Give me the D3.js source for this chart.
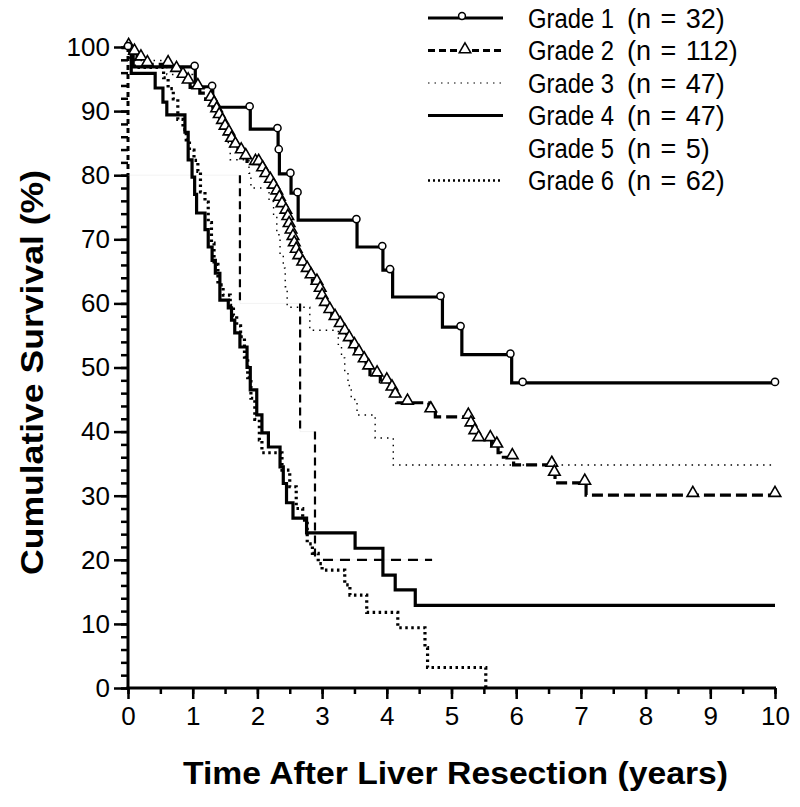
<!DOCTYPE html>
<html>
<head>
<meta charset="utf-8">
<script src="https://cdn.jsdelivr.net/npm/d3@7"></script>
<style>
  html, body { margin: 0; padding: 0; background: #fff; }
  svg { display: block; }
  text { font-family: "Liberation Sans", Arial, sans-serif; fill: #000; }
</style>
</head>
<body>
<svg id="chart" width="800" height="807"></svg>
<script>
// ---------- data ----------
const categories = ["Grade 1", "Grade 2", "Grade 3", "Grade 4", "Grade 5", "Grade 6"];
const sampleSizes = [32, 112, 47, 47, 5, 62];
const xTickValues = [0, 1, 2, 3, 4, 5, 6, 7, 8, 9, 10];
const yTickValues = [0, 10, 20, 30, 40, 50, 60, 70, 80, 90, 100];

// step points: [time (years), survival (%) after the step]
const grade1Steps = [[0,100],[0.08,96.9],[1.04,93.8],[1.31,90.6],[1.89,87.2],[2.32,83.9],[2.34,80.2],[2.52,77.2],[2.63,73.0],[3.54,68.8],[3.94,65.2],[4.09,61.0],[4.86,56.3],[5.16,52.0],[5.93,47.6]];
const grade1End = 10;
const grade1Censor = [0,1.03,1.3,1.88,2.31,2.33,2.51,2.62,3.53,3.93,4.05,4.83,5.14,5.91,6.1,10];

const grade2Steps = [[0,100],[0.03,99.1],[0.14,98.2],[0.22,97.3],[0.7,96.4],[0.8,95.5],[0.91,94.6],[0.96,93.7],[1.11,92.8],[1.2,91.9],[1.31,91.0],[1.34,90.1],[1.38,89.2],[1.42,88.3],[1.48,87.4],[1.53,86.5],[1.58,85.5],[1.62,84.6],[1.7,83.7],[1.78,82.8],[1.84,81.9],[2.04,80.9],[2.1,80.0],[2.15,79.1],[2.23,78.2],[2.27,77.3],[2.32,76.3],[2.36,75.3],[2.4,74.3],[2.46,73.3],[2.48,72.2],[2.5,71.2],[2.53,70.2],[2.56,69.2],[2.58,68.2],[2.62,67.2],[2.66,66.2],[2.72,65.2],[2.8,64.2],[2.85,63.2],[2.95,62.1],[2.98,61.0],[3.02,59.9],[3.08,58.8],[3.15,57.7],[3.25,56.6],[3.3,55.5],[3.38,54.4],[3.45,53.3],[3.52,52.2],[3.6,51.1],[3.68,50.0],[3.74,48.9],[3.9,47.8],[4.05,46.7],[4.1,45.6],[4.15,44.5],[4.65,43.3],[4.75,42.3],[5.28,41.1],[5.33,39.9],[5.4,38.8],[5.62,37.8],[5.72,36.7],[5.76,36.0],[5.96,34.8],[6.58,33.4],[6.6,32.0],[7.08,30.1]];
const grade2End = 10;
const grade2Censor = [0.01,0.1,0.2,0.3,0.62,0.75,0.85,0.93,1.08,1.28,1.33,1.37,1.41,1.46,1.5,1.56,1.6,1.66,1.75,1.82,1.97,2.02,2.08,2.13,2.2,2.25,2.3,2.34,2.38,2.44,2.47,2.49,2.52,2.55,2.57,2.6,2.64,2.7,2.77,2.83,2.92,2.97,3.0,3.05,3.12,3.2,3.28,3.35,3.42,3.5,3.57,3.65,3.72,3.85,4.0,4.08,4.13,4.32,4.68,5.26,5.3,5.36,5.42,5.6,5.7,5.94,6.55,6.59,7.06,8.73,10];

const grade3Steps = [[0,100],[0.1,97.9],[0.6,95.7],[1.0,93.6],[1.3,91.5],[1.4,89.4],[1.5,87.2],[1.55,85.1],[1.58,82.4],[1.87,80.3],[1.9,78.0],[2.18,75.9],[2.25,73.8],[2.3,70.7],[2.35,67.6],[2.4,65.5],[2.43,62.6],[2.46,59.4],[2.81,55.8],[3.25,53.6],[3.3,51.5],[3.35,49.4],[3.4,47.2],[3.45,45.0],[3.54,42.6],[3.82,39.0],[4.1,34.8]];
const grade3End = 10;

const grade4Steps = [[0,100],[0.05,95.9],[0.42,93.6],[0.54,91.4],[0.6,89.4],[0.88,86.7],[0.93,82.4],[0.99,79.7],[1.03,77.0],[1.06,74.1],[1.19,71.5],[1.24,68.8],[1.3,66.7],[1.35,64.7],[1.42,60.5],[1.55,59.3],[1.6,57.4],[1.65,55.4],[1.73,53.2],[1.84,50.0],[1.89,46.5],[1.99,42.6],[2.07,39.8],[2.17,37.6],[2.35,34.5],[2.4,31.9],[2.45,28.9],[2.55,26.5],[2.76,24.2],[3.51,21.8],[3.94,17.6],[4.13,15.3],[4.44,12.9]];
const grade4End = 10;

const grade5Steps = [[0,100],[0.0,80],[1.73,60],[2.66,40],[2.89,20]];
const grade5End = 4.7;

const grade6Steps = [[0,100],[0.03,98.4],[0.1,96.8],[0.55,95.2],[0.62,93.5],[0.7,91.9],[0.77,88.7],[0.85,87.1],[0.9,85.5],[0.95,83.9],[1.02,82.3],[1.08,80.6],[1.12,77.4],[1.19,75.8],[1.24,72.6],[1.29,69.4],[1.33,66.1],[1.39,62.9],[1.47,61.3],[1.58,59.7],[1.63,58.1],[1.68,56.5],[1.74,54.8],[1.8,51.6],[1.85,48.4],[1.9,45.2],[1.96,41.9],[2.03,38.7],[2.07,36.7],[2.38,34.0],[2.5,31.4],[2.6,28.0],[2.7,26.2],[2.77,22.5],[2.85,21.0],[2.94,19.4],[3.0,18.4],[3.35,16.1],[3.43,14.5],[3.69,11.8],[4.17,9.4],[4.59,6.3],[4.63,3.2],[5.53,0]];
const grade6End = 5.53;

// ---------- drawing ----------
const svg = d3.select("#chart");
const x = d3.scaleLinear().domain([0, 10]).range([128, 775]);
const y = d3.scaleLinear().domain([0, 100]).range([688, 47]);

function survivalAt(steps, t) {
  let v = steps[0][1];
  for (const s of steps) { if (s[0] <= t) v = s[1]; }
  return v;
}
function curvePoints(steps, end) {
  const pts = steps.slice();
  pts.push([end, steps[steps.length - 1][1]]);
  return pts;
}
const stepLine = d3.line().x(d => x(d[0])).y(d => y(d[1])).curve(d3.curveStepAfter);

const styles = [
  { width: 3.2, dash: null },
  { width: 3.2, dash: "11,5" },
  { width: 1.4, dash: "1.5,5" },
  { width: 3.2, dash: null },
  { width: 2.2, dash: "8,5" },
  { width: 3.2, dash: "2.5,3.5" }
];
const series = [
  { steps: grade1Steps, end: grade1End },
  { steps: grade2Steps, end: grade2End },
  { steps: grade3Steps, end: grade3End },
  { steps: grade4Steps, end: grade4End },
  { steps: grade5Steps, end: grade5End },
  { steps: grade6Steps, end: grade6End }
];

// axes (spines drawn manually)
const axisFont = '"Liberation Sans", Arial, sans-serif';
const yMinor = d3.axisLeft(y).tickValues(d3.range(0, 101, 2)).tickSize(7).tickFormat("");
const yMajor = d3.axisLeft(y).tickValues(yTickValues).tickSize(14).tickPadding(4);
const xMinor = d3.axisBottom(x).tickValues(d3.range(0, 10.01, 0.5)).tickSize(6).tickFormat("");
const xMajor = d3.axisBottom(x).tickValues(xTickValues).tickSize(11).tickPadding(8);
function styleAxis(g) {
  g.selectAll("path.domain").remove();
  g.selectAll("line").attr("stroke", "#000").attr("stroke-width", 2.5);
  g.selectAll("text").style("font-family", axisFont).style("font-size", "26px").attr("fill", "#000");
}
svg.append("g").attr("transform", `translate(${x(0)},0)`).call(yMinor).call(styleAxis);
svg.append("g").attr("transform", `translate(${x(0)},0)`).call(yMajor).call(styleAxis);
svg.append("g").attr("transform", `translate(0,${y(0)})`).call(xMinor).call(styleAxis);
svg.append("g").attr("transform", `translate(0,${y(0)})`).call(xMajor).call(styleAxis);
// left spine is solid below the Grade 5 early drop; that dashed drop forms the upper part
svg.append("line").attr("x1", x(0)).attr("x2", x(0)).attr("y1", y(0) + 1.5).attr("y2", y(grade5Steps[1][1]))
  .attr("stroke", "#000").attr("stroke-width", 3);
svg.append("line").attr("x1", x(0) - 1.5).attr("x2", x(10) + 1).attr("y1", y(0)).attr("y2", y(0))
  .attr("stroke", "#000").attr("stroke-width", 3);

const plot = svg.append("g");
// Grade 5: horizontal runs barely visible in the print, verticals and last run dashed
const g5pts = curvePoints(grade5Steps, grade5End);
plot.append("path").attr("d", stepLine(g5pts)).attr("fill", "none")
  .attr("stroke", "#000").attr("stroke-opacity", 0.05).attr("stroke-width", 1);
for (let k = 1; k < grade5Steps.length; k++) {
  plot.append("line")
    .attr("x1", x(grade5Steps[k][0])).attr("x2", x(grade5Steps[k][0]))
    .attr("y1", y(grade5Steps[k - 1][1])).attr("y2", y(grade5Steps[k][1]))
    .attr("stroke", "#000").attr("stroke-width", k === 1 ? 3 : styles[4].width)
    .attr("stroke-dasharray", k === 1 ? "5,4" : styles[4].dash);
}
const g5last = grade5Steps[grade5Steps.length - 1];
plot.append("line")
  .attr("x1", x(g5last[0]) + 8).attr("x2", x(grade5End))
  .attr("y1", y(g5last[1])).attr("y2", y(g5last[1]))
  .attr("stroke", "#000").attr("stroke-width", styles[4].width).attr("stroke-dasharray", "10,7");

[2, 3, 5, 1, 0].forEach(i => {
  plot.append("path")
    .attr("d", stepLine(curvePoints(series[i].steps, series[i].end)))
    .attr("fill", "none")
    .attr("stroke", "#000")
    .attr("stroke-width", styles[i].width)
    .attr("stroke-dasharray", styles[i].dash)
    .attr("stroke-linejoin", "miter")
    .attr("stroke-linecap", "butt");
});

// censor marks
const tri = d3.symbol().type(d3.symbolTriangle).size(58);
plot.selectAll(".tri").data(grade2Censor).join("path")
  .attr("class", "tri")
  .attr("d", tri)
  .attr("transform", t => `translate(${x(t)},${y(survivalAt(grade2Steps, t)) - 2})`)
  .attr("fill", "#fff").attr("stroke", "#000").attr("stroke-width", 1.6);
plot.selectAll(".circ").data(grade1Censor).join("circle")
  .attr("class", "circ")
  .attr("cx", t => x(t))
  .attr("cy", t => y(survivalAt(grade1Steps, t)) - 1)
  .attr("r", 3.6)
  .attr("fill", "#fff").attr("stroke", "#000").attr("stroke-width", 1.5);

// axis titles
svg.append("text")
  .attr("x", (x(0) + x(10)) / 2 + 4)
  .attr("y", 784)
  .attr("text-anchor", "middle")
  .attr("textLength", 545)
  .attr("lengthAdjust", "spacingAndGlyphs")
  .style("font-size", "31px").style("font-weight", "bold")
  .text("Time After Liver Resection (years)");
svg.append("text")
  .attr("transform", `translate(43,${(y(0) + y(100)) / 2 + 5}) rotate(-90)`)
  .attr("text-anchor", "middle")
  .attr("textLength", 405)
  .attr("lengthAdjust", "spacingAndGlyphs")
  .style("font-size", "31px").style("font-weight", "bold")
  .text("Cumulative Survival (%)");

// legend
const legend = svg.append("g");
const lx0 = 428, lx1 = 503, tx = 528, nx = 627, ly0 = 18, lstep = 32.5;
categories.forEach((c, i) => {
  const yy = ly0 + i * lstep;
  if (i !== 4) {
    legend.append("line")
      .attr("x1", lx0).attr("x2", lx1).attr("y1", yy).attr("y2", yy)
      .attr("stroke", "#000")
      .attr("stroke-width", i === 2 ? 1.2 : (i === 5 ? 2.6 : 2.8))
      .attr("stroke-dasharray", i === 2 ? "1.5,5" : (i === 1 ? "7,4" : (i === 5 ? "2,3" : null)));
  }
  if (i === 0) {
    legend.append("circle").attr("cx", 462).attr("cy", yy - 2).attr("r", 3.4)
      .attr("fill", "#fff").attr("stroke", "#000").attr("stroke-width", 1.5);
  }
  if (i === 1) {
    legend.append("path").attr("d", tri).attr("transform", `translate(465,${yy - 1})`)
      .attr("fill", "#fff").attr("stroke", "#000").attr("stroke-width", 1.5);
  }
  legend.append("text").attr("x", tx).attr("y", yy + 9.5)
    .attr("textLength", 86).attr("lengthAdjust", "spacingAndGlyphs")
    .style("font-size", "27px").text(c);
  legend.append("text").attr("x", nx).attr("y", yy + 9.5)
    .style("font-size", "27px").style("word-spacing", "2px")
    .text(`(n = ${sampleSizes[i]})`);
});
</script>
</body>
</html>
